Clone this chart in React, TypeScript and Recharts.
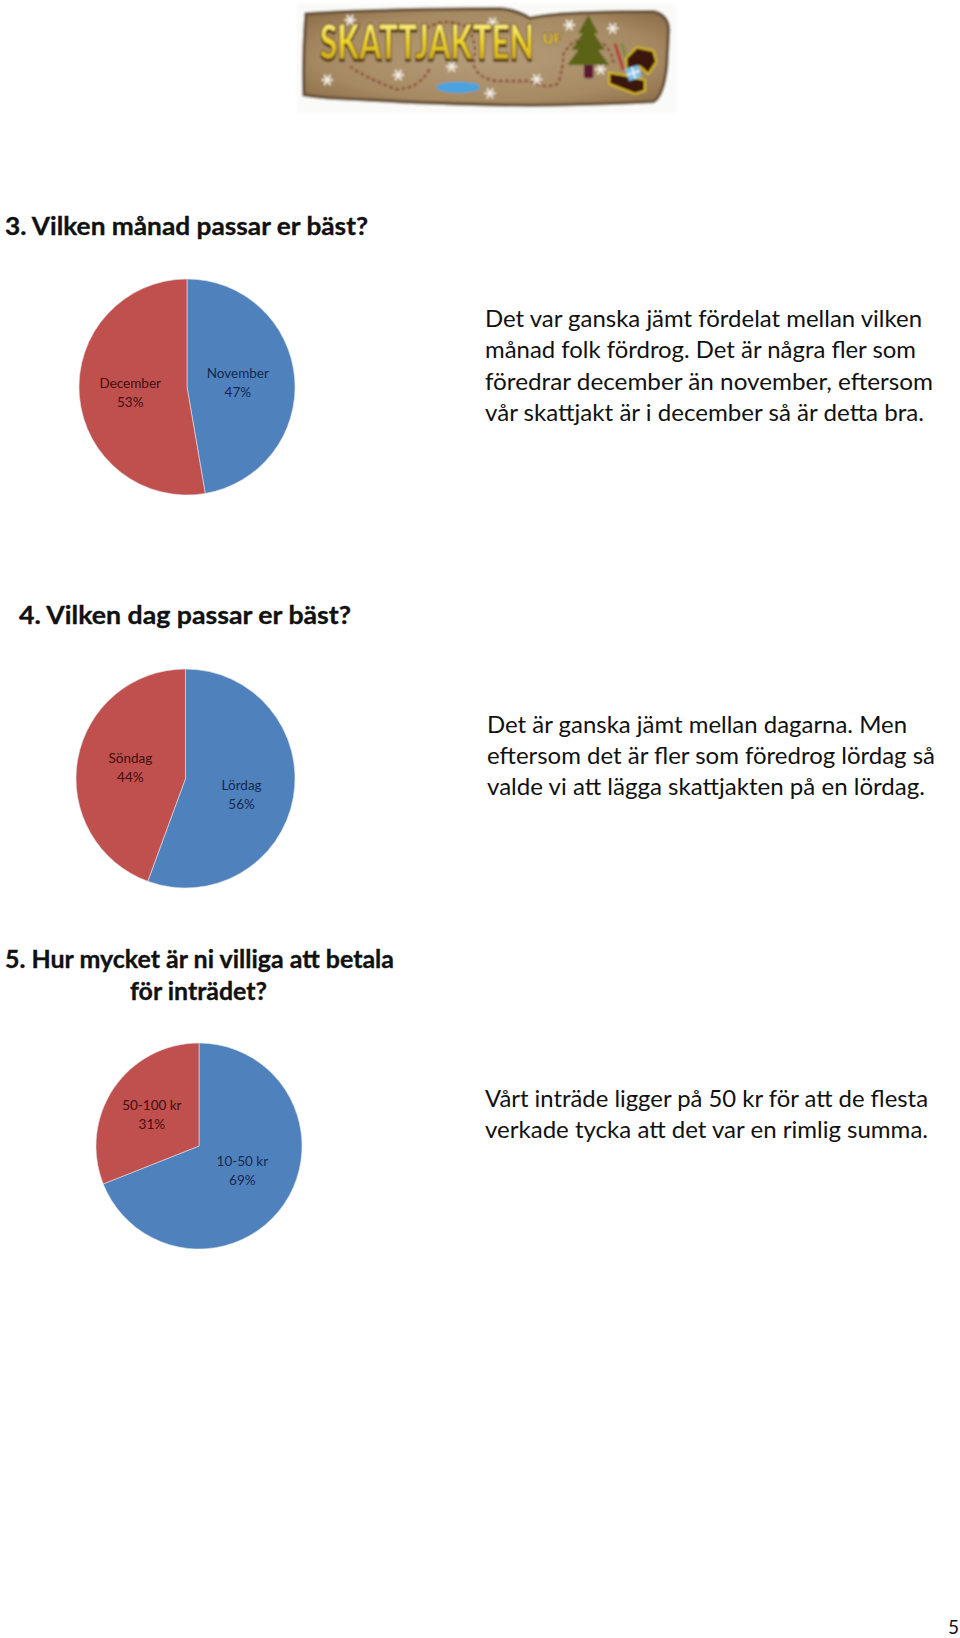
import { PieChart, Pie, Cell } from "recharts";

const BLUE = "#4F81BD";
const RED = "#C0504D";
const SLICE_COLORS = [BLUE, RED];
const LABEL_COLORS = ["#14294f", "#410d0f"];
const FONT = "Lato, 'Open Sans', sans-serif";

const monthNames = ["November", "December"];
const monthValues = [47.3, 52.7];
const dayNames = ["Lördag", "Söndag"];
const dayValues = [55.6, 44.4];
const priceNames = ["10-50 kr", "50-100 kr"];
const priceValues = [69, 31];

const toRows = (names: string[], values: number[]) =>
  names.map((name, i) => ({ name, value: values[i] }));

const paragraphs = [
  {
    x: 485,
    lines: [
      ["Det var ganska jämt fördelat mellan vilken", 327, 437],
      ["månad folk fördrog. Det är några fler som", 358, 431],
      ["föredrar december än november, eftersom", 390, 448],
      ["vår skattjakt är i december så är detta bra.", 421, 439],
    ],
  },
  {
    x: 487,
    lines: [
      ["Det är ganska jämt mellan dagarna. Men", 733, 420],
      ["eftersom det är fler som föredrog lördag så", 764, 448],
      ["valde vi att lägga skattjakten på en lördag.", 795, 438],
    ],
  },
  {
    x: 485,
    lines: [
      ["Vårt inträde ligger på 50 kr för att de flesta", 1107, 443],
      ["verkade tycka att det var en rimlig summa.", 1138, 443],
    ],
  },
];

const headings: [string, number, number, number][] = [
  ["3. Vilken månad passar er bäst?", 5, 235, 363],
  ["4. Vilken dag passar er bäst?", 19, 624, 332],
  ["5. Hur mycket är ni villiga att betala", 5, 968, 389],
  ["för inträdet?", 130, 1000, 137],
];

const flakes = [
  [240, 60], [668, 68], [898, 75], [1028, 85], [172, 240],
  [385, 225], [545, 200], [660, 280], [800, 238], [992, 208],
];

function Flake({ x, y }: { x: number; y: number }) {
  return (
    <g transform={`translate(${x} ${y})`} stroke="#f7f3ea" strokeWidth={5}>
      <line x1={-17} y1={0} x2={17} y2={0} />
      <line x1={-9} y1={-15} x2={9} y2={15} />
      <line x1={-9} y1={15} x2={9} y2={-15} />
      <circle r={5} fill="#f7f3ea" stroke="none" />
    </g>
  );
}

// logo banner, drawn in the coordinates of a 3x crop
function Logo() {
  return (
    <svg
      width={960}
      height={130}
      style={{ position: "absolute", left: 0, top: 0 }}
    >
      <defs>
        <linearGradient id="gold" x1="0" y1="0" x2="0" y2="1">
          <stop offset="0" stopColor="#fff9b8" />
          <stop offset="0.5" stopColor="#f0d62e" />
          <stop offset="1" stopColor="#c29a18" />
        </linearGradient>
        <radialGradient id="parch" cx="50%" cy="50%" r="65%">
          <stop offset="0" stopColor="#b59d79" />
          <stop offset="0.7" stopColor="#a68a63" />
          <stop offset="1" stopColor="#8d6f4a" />
        </radialGradient>
        <filter id="soft">
          <feGaussianBlur stdDeviation="2.6" />
        </filter>
        <filter id="drop" x="-5%" y="-10%" width="110%" height="130%">
          <feDropShadow dx="0" dy="4" stdDeviation="0.5" floodColor="#4a3110" />
        </filter>
      </defs>
      <g transform="translate(270 0) scale(0.3333)" filter="url(#soft)">
        <rect x={80} y={10} width={1140} height={330} fill="#fafaf8" />
        <path
          d="M108 42 Q300 28 690 26 Q740 30 780 55 Q860 35 1150 35 Q1195 45 1196 90 L1190 200 Q1180 290 1150 305 Q950 315 780 316 Q500 312 300 300 Q150 295 102 285 Q98 180 108 42Z"
          fill="url(#parch)"
          stroke="#6b5339"
          strokeWidth={10}
        />
        <path
          d="M240 200 Q290 235 380 268 Q450 265 480 205 M470 85 Q520 50 590 80 Q625 125 610 190 Q620 235 680 243 L780 243 Q830 270 865 250 Q880 200 880 165 Q900 125 930 120 M1000 130 Q1030 160 1030 190"
          fill="none"
          stroke="#8b4a38"
          strokeWidth={7}
          strokeDasharray="11 8"
        />
        <ellipse cx={565} cy={262} rx={65} ry={17} fill="#4aa3e0" />
        {flakes.map(([x, y]) => (
          <Flake key={`${x}-${y}`} x={x} y={y} />
        ))}
        <rect x={942} y={185} width={28} height={50} rx={8} fill="#5a1230" />
        <polygon
          points="955,45 985,100 972,100 1005,150 985,150 1018,195 892,195 925,150 905,150 938,100 925,100"
          fill="#5b6314"
        />
        <path d="M1035 130 L1060 210" stroke="#b23a35" strokeWidth={9} />
        <path d="M1055 130 L1078 205" stroke="#6f8a3a" strokeWidth={7} />
        <path
          d="M1068 175 L1100 142 L1150 152 L1160 185 L1135 222 L1110 200 L1070 210Z"
          fill="#3a170c"
          stroke="#d8b820"
          strokeWidth={6}
        />
        <path
          d="M1018 218 L1060 225 L1125 240 L1125 272 L1095 282 L1018 252Z"
          fill="#3a170c"
          stroke="#d8b820"
          strokeWidth={6}
        />
        <polygon points="1065,207 1105,195 1115,230 1078,243" fill="#7cc1e6" />
        <path d="M1085 201 L1097 236 M1071 225 L1110 212" stroke="#f2f6f8" strokeWidth={5} />
        <g transform="translate(0 178) scale(1 1.65)" filter="url(#drop)">
          <text
            x={150}
            y={0}
            textLength={642}
            lengthAdjust="spacingAndGlyphs"
            fontFamily={FONT}
            fontWeight={900}
            fontSize={85}
            fill="url(#gold)"
            stroke="#6b4a14"
            strokeWidth={2}
          >
            SKATTJAKTEN
          </text>
        </g>
        <text x={818} y={132} fontFamily={FONT} fontWeight={900} fontSize={44} fill="#f0d53a" stroke="#5c3b10" strokeWidth={1.5}>
          UF
        </text>
      </g>
    </svg>
  );
}

interface QuestionPieProps {
  names: string[];
  values: number[];
  left: number;
  top: number;
  radius: number;
  labelRadii: number[];
  labelShift: number[][];
}

function QuestionPie({ names, values, left, top, radius, labelRadii, labelShift }: QuestionPieProps) {
  const size = radius * 2 + 4;

  const renderLabel = (props: any) => {
    const { cx, cy, midAngle, index, name, value } = props;
    const r = labelRadii[index];
    const x = cx + r * Math.cos((-midAngle * Math.PI) / 180) + labelShift[index][0];
    const y = cy + r * Math.sin((-midAngle * Math.PI) / 180) + labelShift[index][1];
    return (
      <text
        x={x}
        textAnchor="middle"
        fontFamily={FONT}
        fontSize={13.5}
        fill={LABEL_COLORS[index]}
      >
        <tspan x={x} y={y - 4}>{name}</tspan>
        <tspan x={x} y={y + 15}>{Math.round(value)}%</tspan>
      </text>
    );
  };

  return (
    <div style={{ position: "absolute", left, top }}>
      <PieChart width={size} height={size} margin={{ top: 0, right: 0, bottom: 0, left: 0 }}>
        <Pie
          data={toRows(names, values)}
          dataKey="value"
          nameKey="name"
          cx="50%"
          cy="50%"
          outerRadius={radius}
          startAngle={90}
          endAngle={-270}
          stroke="#dfe3ea"
          strokeWidth={0.6}
          label={renderLabel}
          labelLine={false}
          isAnimationActive={false}
        >
          {names.map((name, i) => (
            <Cell key={name} fill={SLICE_COLORS[i]} />
          ))}
        </Pie>
      </PieChart>
    </div>
  );
}

export default function App() {
  return (
    <div
      style={{
        position: "absolute",
        left: 0,
        top: 0,
        width: 960,
        height: 1638,
        background: "#fff",
        overflow: "hidden",
      }}
    >
      <Logo />
      <QuestionPie
        names={monthNames}
        values={monthValues}
        left={77}
        top={276.5}
        radius={108}
        labelRadii={[51, 57]}
        labelShift={[[0, -1], [0, 0]]}
      />
      <QuestionPie
        names={dayNames}
        values={dayValues}
        left={73.5}
        top={667}
        radius={109.5}
        labelRadii={[58, 55]}
        labelShift={[[-1, 5], [-1, -2]]}
      />
      <QuestionPie
        names={priceNames}
        values={priceValues}
        left={94}
        top={1041}
        radius={103}
        labelRadii={[50, 57]}
        labelShift={[[2, -4], [0, 0]]}
      />
      <svg
        width={960}
        height={1638}
        style={{ position: "absolute", left: 0, top: 0, pointerEvents: "none" }}
      >
        {headings.map(([label, x, y, w]) => (
          <text
            key={label}
            x={x}
            y={y}
            textLength={w}
            lengthAdjust="spacingAndGlyphs"
            fontFamily={FONT}
            fontWeight={700}
            fontSize={25}
            fill="#111"
            stroke="#111"
            strokeWidth={0.35}
          >
            {label}
          </text>
        ))}
        {paragraphs.map((p) =>
          p.lines.map(([line, y, w]) => (
            <text
              key={line as string}
              x={p.x}
              y={y as number}
              textLength={w as number}
              lengthAdjust="spacingAndGlyphs"
              fontFamily={FONT}
              fontSize={23}
              fill="#111"
            >
              {line}
            </text>
          ))
        )}
        <text x={948} y={1634} fontFamily={FONT} fontSize={19} fill="#111">
          5
        </text>
      </svg>
    </div>
  );
}
